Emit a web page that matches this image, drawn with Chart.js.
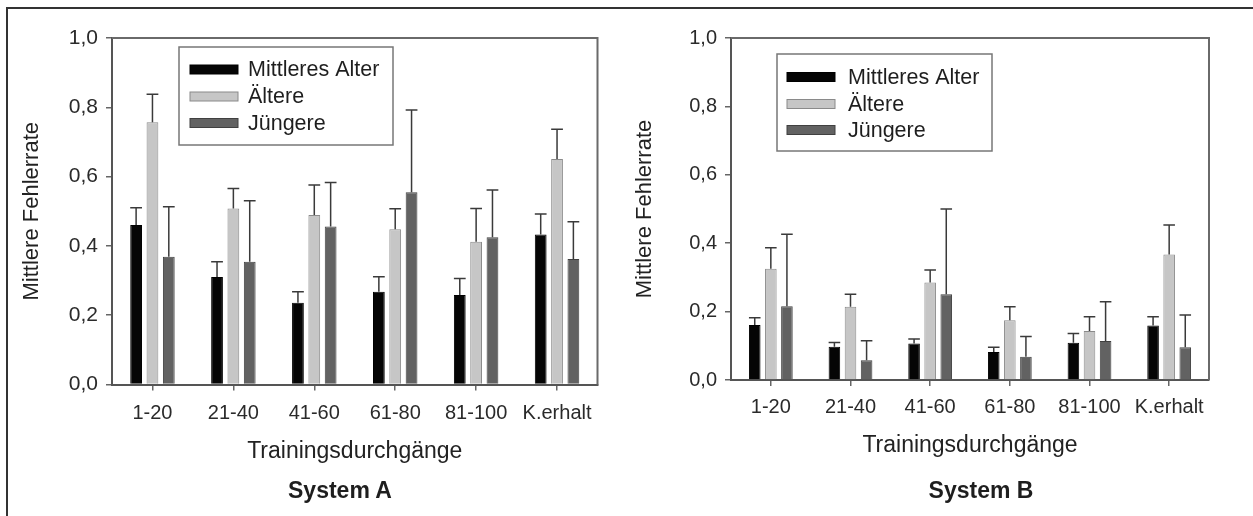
<!DOCTYPE html>
<html>
<head>
<meta charset="utf-8">
<script src="https://cdn.jsdelivr.net/npm/chart.js@4/dist/chart.umd.min.js"></script>
<style>
  html, body { margin: 0; padding: 0; background: #fff; }
  #page { position: relative; width: 1253px; height: 516px; overflow: hidden; background: #fff; }
  #frame { position: absolute; left: 6px; top: 7px; width: 1400px; height: 700px;
           border-left: 2px solid #333; border-top: 2px solid #333; }
  canvas { position: absolute; top: 0; }
  .sys { position: absolute; top: 479px; transform: translateX(-50%); white-space: nowrap;
         font: bold 23px 'Liberation Sans', Arial, sans-serif; line-height: 1; color: #1e1e1e; }
</style>
</head>
<body>
<div id="page">
  <div id="frame"></div>
  <canvas id="chartA" width="626" height="516" style="left:0;width:626px;height:516px"></canvas>
  <canvas id="chartB" width="627" height="516" style="left:626px;width:627px;height:516px"></canvas>
  <div class="sys" style="left:340px">System A</div>
  <div class="sys" style="left:981px">System B</div>
</div>
<script>
// Trainingsblöcke und Gruppen
const categories = ['1-20', '21-40', '41-60', '61-80', '81-100', 'K.erhalt'];
const seriesNames = ['Mittleres Alter', 'Ältere', 'Jüngere'];
const yTickLabels = ['0,0', '0,2', '0,4', '0,6', '0,8', '1,0'];
const xTitle = 'Trainingsdurchgänge';
const yTitle = 'Mittlere Fehlerrate';

// System A: mittlere Fehlerrate und Fehlerbalken (nach oben)
const mittelA = [0.460, 0.310, 0.236, 0.268, 0.258, 0.433];
const mittelAErr = [0.050, 0.044, 0.032, 0.043, 0.048, 0.059];
const aeltereA = [0.757, 0.508, 0.489, 0.448, 0.412, 0.651];
const aeltereAErr = [0.081, 0.058, 0.087, 0.059, 0.096, 0.086];
const juengereA = [0.369, 0.354, 0.456, 0.555, 0.425, 0.362];
const juengereAErr = [0.144, 0.176, 0.127, 0.237, 0.136, 0.108];

// System B
const mittelB = [0.161, 0.097, 0.107, 0.082, 0.109, 0.159];
const mittelBErr = [0.021, 0.013, 0.013, 0.014, 0.027, 0.026];
const aeltereB = [0.325, 0.214, 0.285, 0.175, 0.143, 0.367];
const aeltereBErr = [0.062, 0.037, 0.037, 0.039, 0.042, 0.086];
const juengereB = [0.216, 0.058, 0.251, 0.068, 0.114, 0.096];
const juengereBErr = [0.210, 0.057, 0.249, 0.059, 0.115, 0.094];

const FONT = "'Liberation Sans', Arial, sans-serif";
const fills = ['#050505', '#c6c6c6', '#626262'];
const strokes = ['#000000', '#8a8a8a', '#404040'];

// Upper error whiskers with a cap
const errorBars = {
  id: 'errorBars',
  afterDatasetsDraw(chart) {
    const ctx = chart.ctx;
    const ys = chart.scales.y;
    chart.data.datasets.forEach((ds, di) => {
      const meta = chart.getDatasetMeta(di);
      meta.data.forEach((bar, i) => {
        const top = ys.getPixelForValue(ds.data[i] + ds.errors[i]);
        const half = bar.width * 0.5;
        ctx.save();
        ctx.strokeStyle = '#3a3a3a';
        ctx.lineWidth = 1.5;
        ctx.beginPath();
        ctx.moveTo(bar.x, bar.y);
        ctx.lineTo(bar.x, top);
        ctx.moveTo(bar.x - half, top);
        ctx.lineTo(bar.x + half, top);
        ctx.stroke();
        ctx.restore();
      });
    });
  }
};

// Plot frame (top/right) and the boxed legend inside the plot
const frameLegend = {
  id: 'frameLegend',
  afterDraw(chart, args, o) {
    const ctx = chart.ctx;
    const a = chart.chartArea;
    ctx.save();
    ctx.strokeStyle = '#6a6a6a';
    ctx.lineWidth = 2;
    ctx.beginPath();
    ctx.moveTo(a.left, a.top);
    ctx.lineTo(a.right, a.top);
    ctx.lineTo(a.right, a.bottom);
    ctx.stroke();

    const bx = a.left + o.x, by = a.top + o.y;
    ctx.strokeStyle = '#777';
    ctx.lineWidth = 1.5;
    ctx.strokeRect(bx, by, o.w, o.h);
    ctx.font = '21.5px ' + FONT;
    ctx.textBaseline = 'middle';
    ctx.textAlign = 'left';
    chart.data.datasets.forEach((ds, i) => {
      const cy = by + o.rows[i];
      ctx.fillStyle = ds.backgroundColor;
      ctx.fillRect(bx + o.sx, cy - 4.5, 48, 9);
      ctx.strokeStyle = ds.borderColor;
      ctx.lineWidth = 1;
      ctx.strokeRect(bx + o.sx, cy - 4.5, 48, 9);
      ctx.fillStyle = '#1e1e1e';
      ctx.fillText(ds.label, bx + o.tx, cy + 1);
    });
    ctx.restore();
  }
};

function buildChart(id, values, errors, L) {
  const datasets = values.map((v, i) => ({
    label: seriesNames[i],
    data: v,
    errors: errors[i],
    backgroundColor: fills[i],
    borderColor: strokes[i],
    borderWidth: 1,
    categoryPercentage: 0.606,
    barPercentage: 0.72
  }));
  return new Chart(document.getElementById(id), {
    type: 'bar',
    data: { labels: categories, datasets },
    plugins: [errorBars, frameLegend],
    options: {
      responsive: false,
      animation: false,
      layout: { padding: { left: 0, top: 38, right: L.padRight, bottom: 0 } },
      plugins: {
        legend: { display: false },
        tooltip: { enabled: false },
        frameLegend: L.legend
      },
      scales: {
        x: {
          type: 'category',
          offset: true,
          afterFit: s => { s.height = L.xHeight; },
          grid: { offset: false, drawOnChartArea: false, drawTicks: true, tickLength: 6, color: '#666', lineWidth: 1.5 },
          border: { display: true, color: '#555', width: 2 },
          ticks: { color: '#2a2a2a', font: { family: FONT, size: 20 }, padding: L.xTickPad, maxRotation: 0, autoSkip: false },
          title: { display: true, text: xTitle, color: '#222', font: { family: FONT, size: 23 }, padding: { top: 0, bottom: L.xTitlePad } }
        },
        y: {
          min: 0, max: 1,
          afterFit: s => { s.width = L.yWidth; },
          grid: { drawOnChartArea: false, drawTicks: true, tickLength: 6, color: '#666', lineWidth: 1.5 },
          border: { display: true, color: '#555', width: 2 },
          ticks: { stepSize: 0.2, color: '#2a2a2a', font: { family: FONT, size: L.yTickSize }, padding: 8,
                   callback: (v, i) => yTickLabels[i] },
          title: { display: true, text: yTitle, color: '#222', font: { family: FONT, size: 22 }, padding: { top: L.yTitlePad, bottom: 0 } }
        }
      }
    }
  });
}

buildChart('chartA',
  [mittelA, aeltereA, juengereA],
  [mittelAErr, aeltereAErr, juengereAErr],
  { padRight: 28.5, yWidth: 112, xHeight: 131.5, xTickPad: 10.5, xTitlePad: 50.7, yTitlePad: 18.8, yTickSize: 21,
    legend: { x: 67, y: 9, w: 214, h: 98, sx: 11, tx: 69, rows: [22.5, 49.5, 76] } });

buildChart('chartB',
  [mittelB, aeltereB, juengereB],
  [mittelBErr, aeltereBErr, juengereBErr],
  { padRight: 44, yWidth: 105, xHeight: 136, xTickPad: 9, xTitlePad: 56.2, yTitlePad: 5.8, yTickSize: 20,
    legend: { x: 46, y: 16, w: 215, h: 97, sx: 10, tx: 71, rows: [23, 50, 76] } });
</script>
</body>
</html>
